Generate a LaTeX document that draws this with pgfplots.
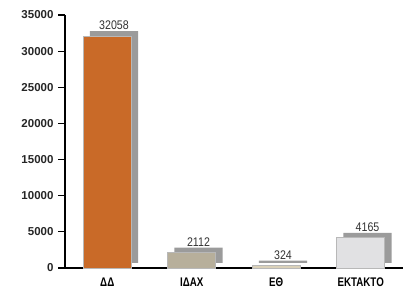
\documentclass[border=0pt]{standalone}
\usepackage{pgfplots}
\usepackage{pgfplotstable}
\pgfplotsset{compat=1.18}
\usepackage{fontspec}
\setmainfont{Liberation Sans}
\newfontfamily\condfont[FakeStretch=0.78]{Liberation Sans}
\newfontfamily\valfont[FakeStretch=0.85]{Liberation Sans}
\definecolor{cDD}{HTML}{C96A28}
\definecolor{cID}{HTML}{B7AF9B}
\definecolor{cET}{HTML}{DAD1B9}
\definecolor{cEK}{HTML}{E1E1E3}
\definecolor{cSh}{HTML}{9B9B9B}
\definecolor{cEdge}{HTML}{B8B8B8}
\pgfplotstableread{
x base value
0 700 32058
1 700 2112
2 700 324
3 700 4165
}\data
\begin{document}
\begin{tikzpicture}
\pgfplotsset{
  common/.style={
    scale only axis, width=338pt, height=253pt,
    xmin=-0.5, xmax=3.5, ymin=0, ymax=35000,
    scaled y ticks=false,
    /pgf/number format/1000 sep={},
    /pgf/number format/assume math mode=true,
  },
}
% shadows
\begin{axis}[common, hide axis, ybar stacked, bar width=0.57, bar shift=0.08]
\addplot[draw=none, fill=none] table[x=x, y=base] {\data};
\addplot[fill=cSh, draw=none] table[x=x, y=value] {\data};
\end{axis}
% front bars and axes
\begin{axis}[common, ybar, bar width=0.57, bar shift=0,
  axis x line=bottom, axis y line=left,
  axis line style={line width=1.3pt, -},
  xtick={0,1,2,3},
  xticklabels={ΔΔ, ΙΔΑΧ, ΕΘ, ΕΚΤΑΚΤΟ},
  xticklabel style={font=\condfont\bfseries\fontsize{12.5}{12}\selectfont, yshift=1pt},
  x tick style={draw=none},
  extra x ticks={0.5,1.5,2.5},
  extra x tick labels={},
  extra x tick style={tick align=inside, major tick length=6pt,
    tick style={draw=black, line width=1.2pt}},
  ytick={0,5000,...,35000},
  yticklabel style={font=\bfseries\fontsize{11.5}{12}\selectfont, xshift=-1pt, text=black!85},
  y tick style={line width=1.2pt, black},
  tick align=outside, major tick length=7pt,
]
\addplot[fill=cDD, draw=cEdge, line width=0.9pt] table[x=x, y=value, skip coords between index={1}{4}] {\data};
\addplot[fill=cID, draw=cEdge, line width=0.9pt] table[x=x, y=value, skip coords between index={0}{1}, skip coords between index={2}{4}] {\data};
\addplot[fill=cET, draw=cEdge, line width=0.9pt] table[x=x, y=value, skip coords between index={0}{2}, skip coords between index={3}{4}] {\data};
\addplot[fill=cEK, draw=cEdge, line width=0.9pt] table[x=x, y=value, skip coords between index={0}{3}] {\data};
\end{axis}
% value labels on top
\begin{axis}[common, hide axis, ybar, bar width=0.57, bar shift=0.08,
  nodes near coords style={font=\valfont\fontsize{12.5}{12}\selectfont, color=black!80, inner sep=1.2pt, anchor=south}]
\addplot[draw=none, fill=none, nodes near coords, point meta=explicit]
  table[x=x, y expr=\thisrow{value}+\thisrow{base}, meta=value] {\data};
\end{axis}
\pgfresetboundingbox
\path[use as bounding box] (-65pt,-23pt) rectangle (338pt,268pt);
\end{tikzpicture}
\end{document}
